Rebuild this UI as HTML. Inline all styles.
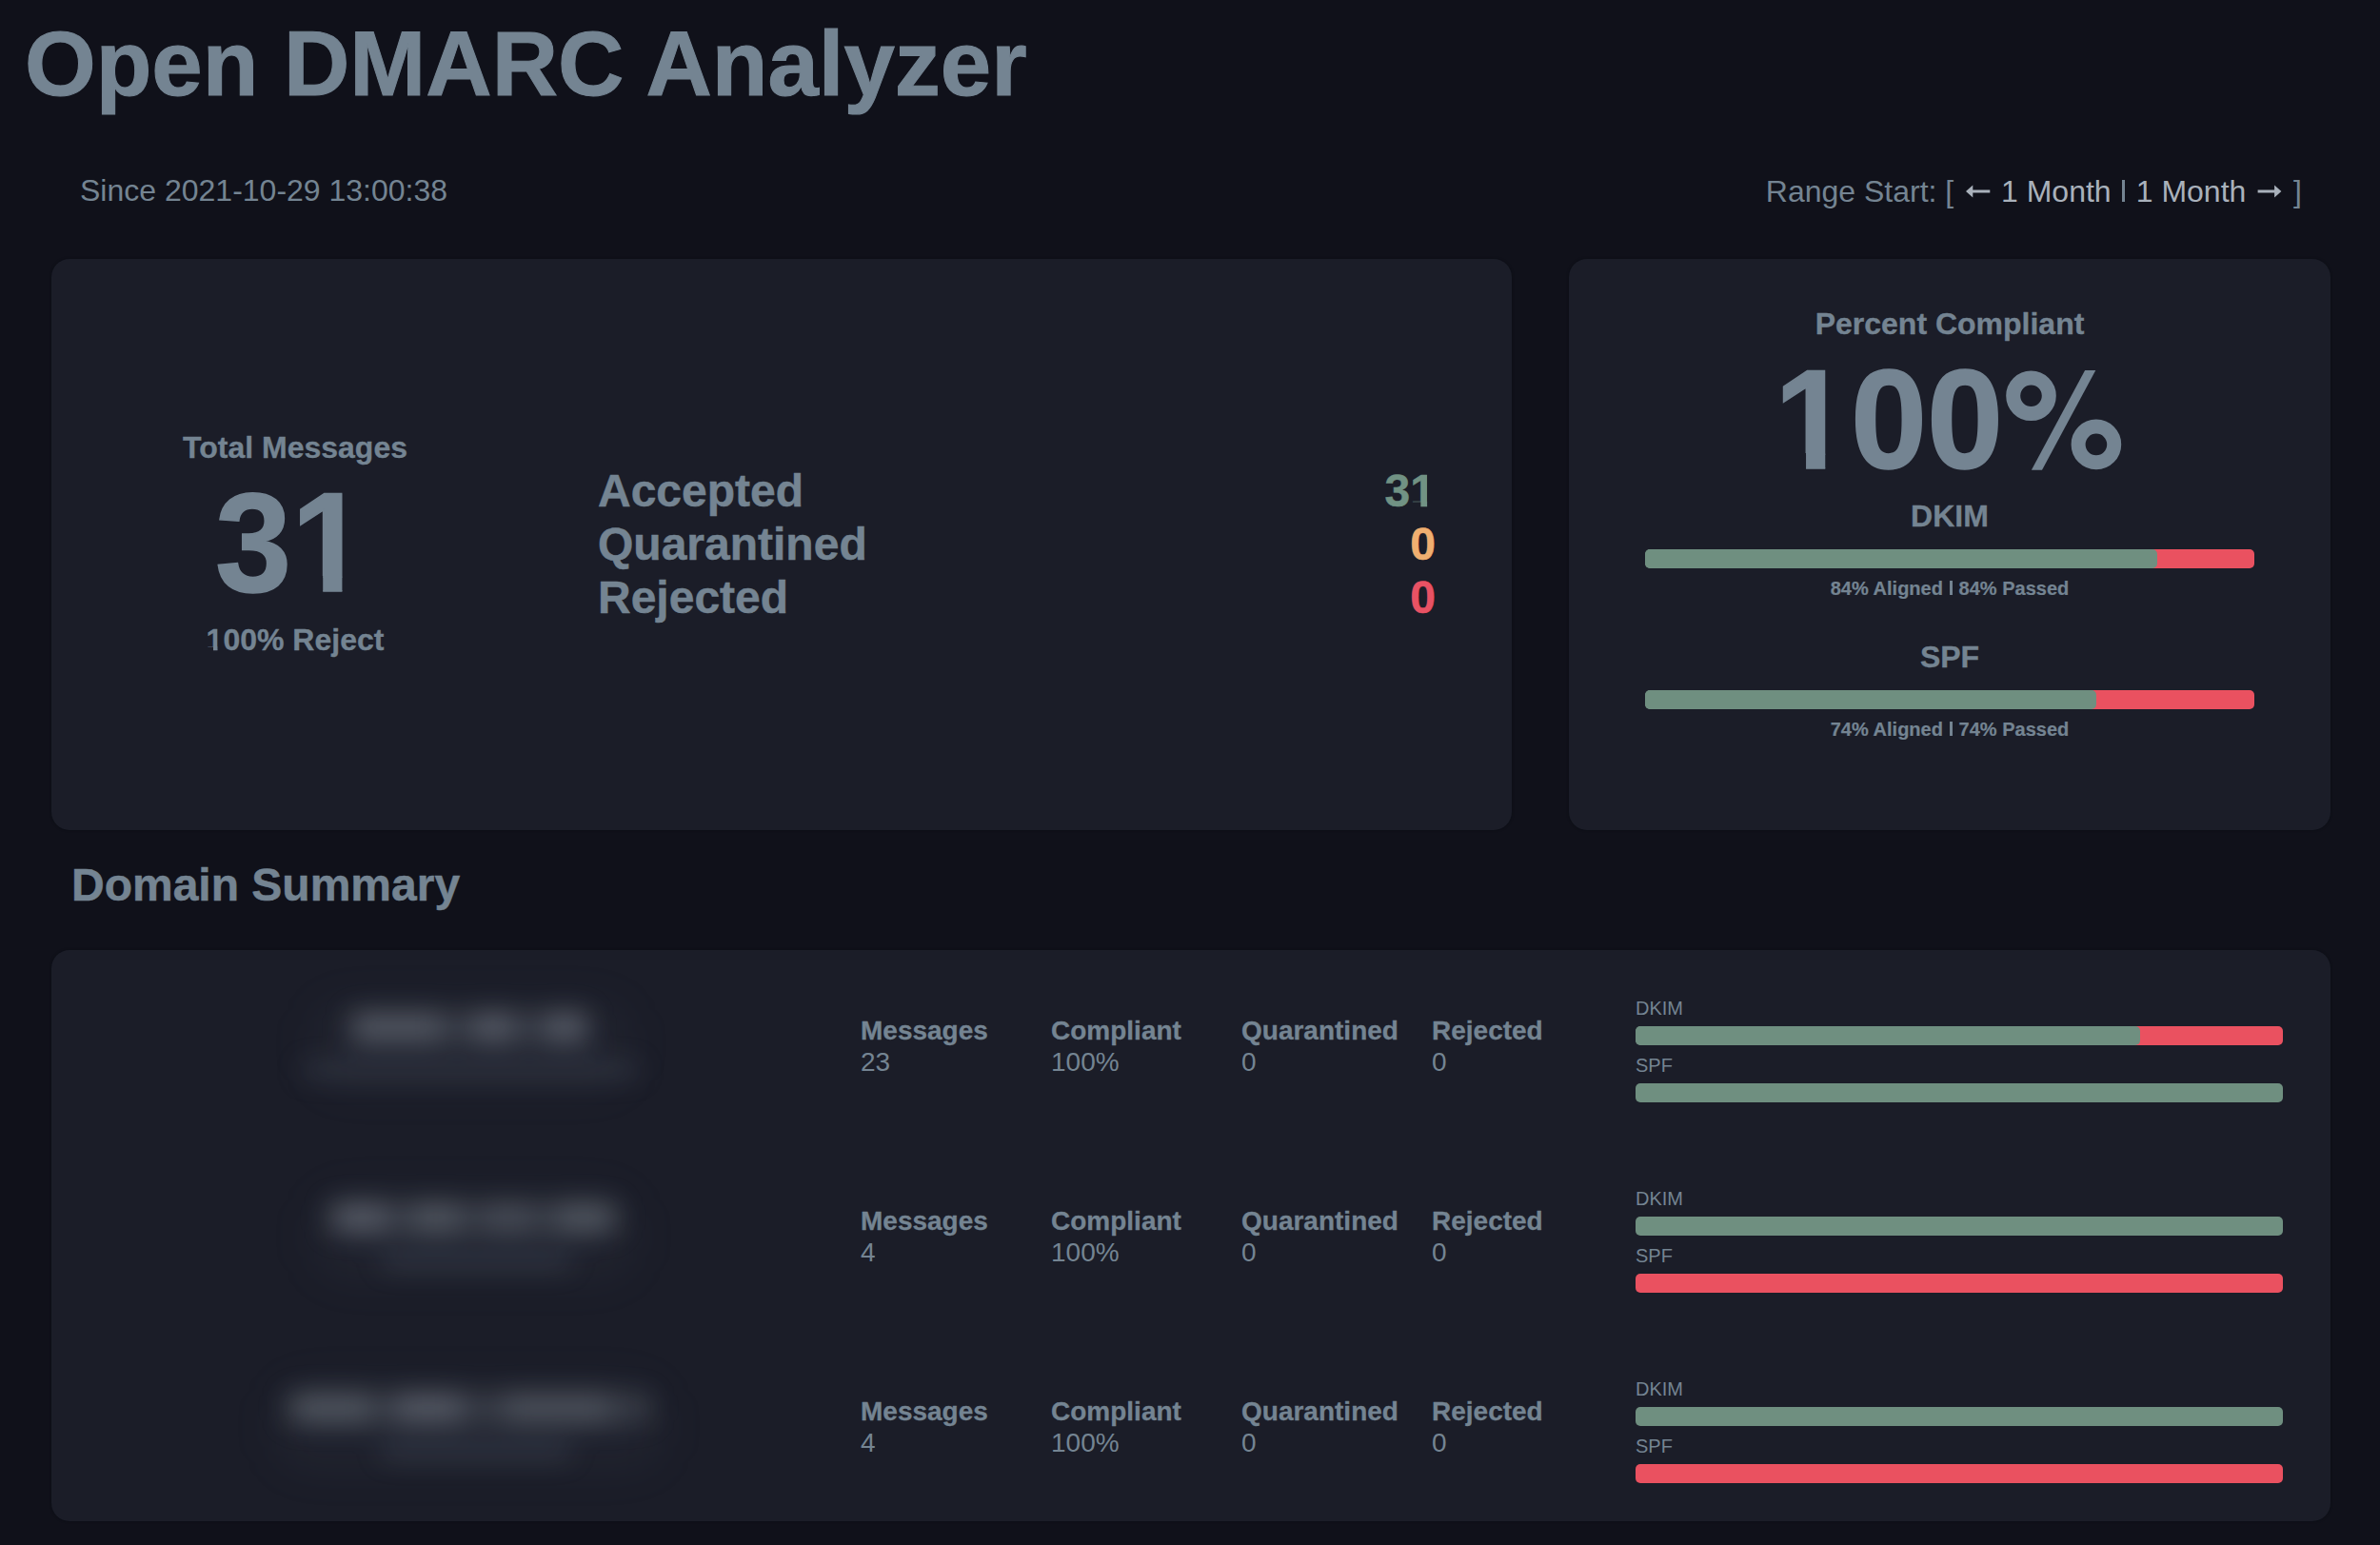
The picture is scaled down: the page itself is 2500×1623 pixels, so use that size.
<!DOCTYPE html>
<html>
<head>
<meta charset="utf-8">
<title>Open DMARC Analyzer</title>
<style>
html,body{margin:0;padding:0;}
body{width:2500px;height:1623px;background:#10111a;color:#748492;font-family:"Liberation Sans",sans-serif;position:relative;overflow:hidden;}
.t{position:absolute;white-space:nowrap;line-height:1;margin:0;padding:0;font-weight:normal;}
.b{font-weight:bold;-webkit-text-stroke:0.011em currentColor;}
.card{position:absolute;background:#1b1d28;border-radius:19px;box-shadow:0 0 3px rgba(4,8,14,.45);}
.bar{position:absolute;height:20px;border-radius:5px;background:linear-gradient(90deg,#6f8f80 12px,#ea5160 12px);overflow:hidden;}
.bar.g{background:#6f8f80;}
.bar.r{background:#ea5160;}
.bar i{display:block;height:100%;background:#6f8f80;border-radius:5px;}
.pipe.s{width:5.6px;height:15.5px;}
.pipe.s:before{left:1.4px;width:2.8px;}
.row{position:absolute;left:54px;width:2394px;height:200px;}
.row .t{font-size:28px;}
.row .l{font-size:20px;}
.blur{position:absolute;left:0;top:0;width:900px;height:200px;filter:blur(14px);}
.haze{position:absolute;filter:blur(24px);background:rgba(140,150,170,.05);top:56px;height:88px;border-radius:30px;}
.blur i{position:absolute;display:block;border-radius:6px;}
.big{transform:scaleY(1.03);transform-origin:50% 84.65%;}
.one{display:inline-block;line-height:1;vertical-align:baseline;clip-path:polygon(0 0,.371em 0,.371em 100%,.2306em 100%,.2306em .733em,0 .733em);}
.green{color:#719284;}
.orange{color:#f0af70;}
.red{color:#e85264;}
.lnk{color:#a9b1bb;}
.arw{display:inline-block;vertical-align:4px;}
.pipe{display:inline-block;width:8.3px;height:23px;vertical-align:baseline;position:relative;}
.pipe:before{content:"";position:absolute;left:2.8px;top:0;width:2.8px;height:100%;background:currentColor;}
</style>
</head>
<body>
<h1 class="t b" style="left:26px;top:19px;font-size:96px;">Open DMARC Analyzer</h1>
<div class="t" style="left:84px;top:184px;font-size:32px;">Since 2021-10-29 13:00:38</div>
<div class="t" style="right:82px;top:185px;font-size:32px;">Range Start: [ <span class="lnk"><svg class="arw" width="32" height="14" viewBox="0 0 32 14"><path d="M4 7 L11.3 0.4 L11.3 5.5 L29.3 5.5 L29.3 8.5 L11.3 8.5 L11.3 13.6 Z" fill="currentColor"/></svg> 1 Month</span> <span class="pipe"></span> <span class="lnk">1 Month <svg class="arw" width="32" height="14" viewBox="0 0 32 14"><path d="M28.4 7 L21.1 0.4 L21.1 5.5 L3.6 5.5 L3.6 8.5 L21.1 8.5 L21.1 13.6 Z" fill="currentColor"/></svg></span> ]</div>

<div class="card" style="left:54px;top:272px;width:1534px;height:600px;"></div>
<div class="card" style="left:1648px;top:272px;width:800px;height:600px;"></div>

<div class="t b" style="left:110px;width:400px;text-align:center;top:454px;font-size:32px;">Total Messages</div>
<div class="t b big" style="left:106px;width:400px;text-align:center;top:500px;font-size:144px;">3<span class="one">1</span></div>
<div class="t b" style="left:110px;width:400px;text-align:center;top:656px;font-size:32px;"><span class="one">1</span>00% Reject</div>

<div class="t b" style="left:628px;top:488px;font-size:48px;line-height:56px;">Accepted<br>Quarantined<br>Rejected</div>
<div class="t b" style="right:992px;top:488px;font-size:48px;line-height:56px;text-align:right;"><span class="green">3<span class="one">1</span></span><br><span class="orange">0</span><br><span class="red">0</span></div>

<div class="t b" style="left:1648px;width:800px;text-align:center;top:323.5px;font-size:32px;">Percent Compliant</div>
<div class="t b big" style="left:1648px;width:800px;text-align:center;top:371px;font-size:144px;"><span class="one">1</span>00<span style="visibility:hidden">%</span></div>
<svg style="position:absolute;left:2100px;top:380px;" width="140" height="120" viewBox="0 0 140 120"><g fill="none" stroke="#748492" stroke-width="15"><circle cx="33.5" cy="35.8" r="18.8"/><circle cx="101.9" cy="86.9" r="18.8"/></g><polygon points="90.1,9 101.3,9 45,113.7 33.9,113.7" fill="#748492"/></svg>
<div class="t b" style="left:1648px;width:800px;text-align:center;top:525.5px;font-size:32px;">DKIM</div>
<div class="bar" style="left:1728px;top:577px;width:640px;"><i style="width:84%"></i></div>
<div class="t b" style="left:1648px;width:800px;text-align:center;top:608.4px;font-size:20px;">84% Aligned <span class="pipe s"></span> 84% Passed</div>
<div class="t b" style="left:1648px;width:800px;text-align:center;top:673.5px;font-size:32px;">SPF</div>
<div class="bar" style="left:1728px;top:725px;width:640px;"><i style="width:74%"></i></div>
<div class="t b" style="left:1648px;width:800px;text-align:center;top:756.4px;font-size:20px;">74% Aligned <span class="pipe s"></span> 74% Passed</div>

<h2 class="t b" style="left:75px;top:906px;font-size:48px;">Domain Summary</h2>
<div class="card" style="left:54px;top:998px;width:2394px;height:600px;"></div>
<div class="row" style="top:998px;">
<div class="haze" style="left:276px;width:330px;"></div><div class="blur">
<i style="left:314px;top:66.0px;width:250px;height:30px;background:rgba(170,178,188,.19);"></i>
<i style="left:316px;top:66.0px;width:94px;height:30px;background:rgba(170,178,188,.24);"></i>
<i style="left:443px;top:66.0px;width:42px;height:30px;background:rgba(170,178,188,.27);"></i>
<i style="left:519px;top:66.0px;width:43px;height:30px;background:rgba(170,178,188,.27);"></i>
<i style="left:262px;top:119.0px;width:356px;height:14px;background:rgba(119,136,153,.23);"></i>
</div>
<div class="t b" style="left:850px;top:71.4px;">Messages</div><div class="t" style="left:850px;top:103.6px;">23</div>
<div class="t b" style="left:1050px;top:71.4px;">Compliant</div><div class="t" style="left:1050px;top:103.6px;">100%</div>
<div class="t b" style="left:1250px;top:71.4px;">Quarantined</div><div class="t" style="left:1250px;top:103.6px;">0</div>
<div class="t b" style="left:1450px;top:71.4px;">Rejected</div><div class="t" style="left:1450px;top:103.6px;">0</div>
<div class="t l" style="left:1664px;top:50.9px;">DKIM</div><div class="bar" style="left:1664px;top:80px;width:680px;"><i style="width:77.95%"></i></div>
<div class="t l" style="left:1664px;top:111.1px;">SPF</div><div class="bar g" style="left:1664px;top:140px;width:680px;"></div>
</div>
<div class="row" style="top:1198px;">
<div class="haze" style="left:276px;width:335px;"></div><div class="blur">
<i style="left:290px;top:66.0px;width:306px;height:30px;background:rgba(170,178,188,.19);"></i>
<i style="left:298px;top:66.0px;width:56px;height:30px;background:rgba(170,178,188,.27);"></i>
<i style="left:378px;top:66.0px;width:52px;height:30px;background:rgba(170,178,188,.23);"></i>
<i style="left:454px;top:66.0px;width:52px;height:30px;background:rgba(170,178,188,.15);"></i>
<i style="left:530px;top:66.0px;width:58px;height:30px;background:rgba(170,178,188,.23);"></i>
<i style="left:346px;top:119.0px;width:200px;height:14px;background:rgba(119,136,153,.26);"></i>
</div>
<div class="t b" style="left:850px;top:71.4px;">Messages</div><div class="t" style="left:850px;top:103.6px;">4</div>
<div class="t b" style="left:1050px;top:71.4px;">Compliant</div><div class="t" style="left:1050px;top:103.6px;">100%</div>
<div class="t b" style="left:1250px;top:71.4px;">Quarantined</div><div class="t" style="left:1250px;top:103.6px;">0</div>
<div class="t b" style="left:1450px;top:71.4px;">Rejected</div><div class="t" style="left:1450px;top:103.6px;">0</div>
<div class="t l" style="left:1664px;top:50.9px;">DKIM</div><div class="bar g" style="left:1664px;top:80px;width:680px;"></div>
<div class="t l" style="left:1664px;top:111.1px;">SPF</div><div class="bar r" style="left:1664px;top:140px;width:680px;"></div>
</div>
<div class="row" style="top:1398px;">
<div class="haze" style="left:236px;width:405px;"></div><div class="blur">
<i style="left:246px;top:66.0px;width:384px;height:30px;background:rgba(170,178,188,.19);"></i>
<i style="left:256px;top:66.0px;width:80px;height:30px;background:rgba(170,178,188,.23);"></i>
<i style="left:361px;top:66.0px;width:70px;height:30px;background:rgba(170,178,188,.27);"></i>
<i style="left:476px;top:66.0px;width:110px;height:30px;background:rgba(170,178,188,.19);"></i>
<i style="left:346px;top:119.0px;width:200px;height:14px;background:rgba(119,136,153,.26);"></i>
</div>
<div class="t b" style="left:850px;top:71.4px;">Messages</div><div class="t" style="left:850px;top:103.6px;">4</div>
<div class="t b" style="left:1050px;top:71.4px;">Compliant</div><div class="t" style="left:1050px;top:103.6px;">100%</div>
<div class="t b" style="left:1250px;top:71.4px;">Quarantined</div><div class="t" style="left:1250px;top:103.6px;">0</div>
<div class="t b" style="left:1450px;top:71.4px;">Rejected</div><div class="t" style="left:1450px;top:103.6px;">0</div>
<div class="t l" style="left:1664px;top:50.9px;">DKIM</div><div class="bar g" style="left:1664px;top:80px;width:680px;"></div>
<div class="t l" style="left:1664px;top:111.1px;">SPF</div><div class="bar r" style="left:1664px;top:140px;width:680px;"></div>
</div>
</body>
</html>
